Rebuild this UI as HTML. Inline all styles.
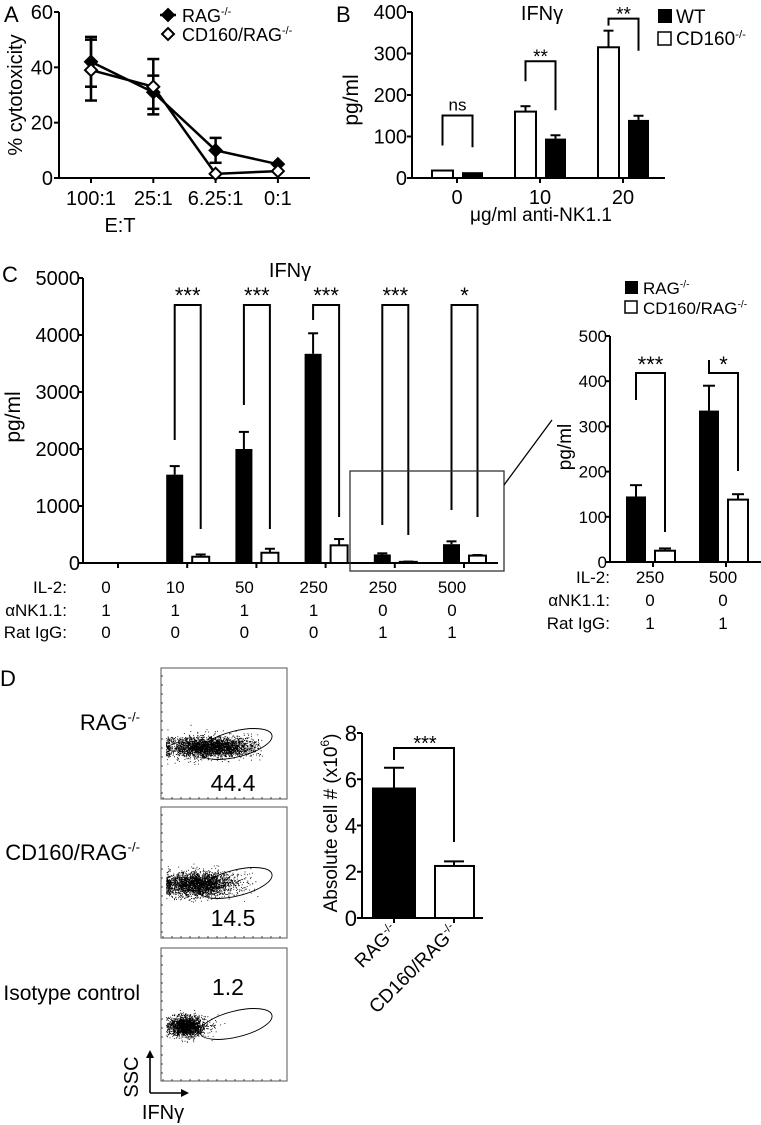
<!DOCTYPE html>
<html><head><meta charset="utf-8"><style>
html,body{margin:0;padding:0;background:#fff;}
svg{display:block;font-family:"Liberation Sans",Arial,sans-serif;}
</style></head><body>
<svg id="fig" width="761" height="1125" viewBox="0 0 761 1125" xmlns="http://www.w3.org/2000/svg">
<g id="gA"></g>
<g id="gB"></g>
<g id="gC"></g>
<g id="gC2"></g>
<g id="gD"></g>
</svg>
<script>
// ---- Panel A data ----
const aCats = ["100:1","25:1","6.25:1","0:1"];
const aRag = [42,31,10,5];
const aRagErr = [9,6,4.5,0.8];
const aCd = [39,33,1.5,2.5];
const aCdErr = [11,10,0.5,0.5];
const aTicks = [0,20,40,60];
// ---- Panel B data ----
const bCats = ["0","10","20"];
const bCd = [18,160,315];
const bCdErr = [0,13,40];
const bWt = [14,95,140];
const bWtErr = [0,8,10];
const bTicks = [0,100,200,300,400];
const bSig = ["ns","**","**"];
// ---- Panel C data ----
const cIL2 = ["0","10","50","250","250","500"];
const cNK = ["1","1","1","1","0","0"];
const cIgG = ["0","0","0","0","1","1"];
const cRag = [0,1550,2000,3670,150,330];
const cRagErr = [0,150,300,360,20,50];
const cCd = [0,110,180,310,20,130];
const cCdErr = [0,40,70,110,5,10];
const cTicks = [0,1000,2000,3000,4000,5000];
const cSig = ["","***","***","***","***","*"];
// ---- Panel C inset ----
const iIL2 = ["250","500"];
const iNK = ["0","0"];
const iIgG = ["1","1"];
const iRag = [145,335];
const iRagErr = [25,55];
const iCd = [25,138];
const iCdErr = [5,12];
const iTicks = [0,100,200,300,400,500];
const iSig = ["***","*"];
// ---- Panel D data ----
const dCats = ["RAG-/-","CD160/RAG-/-"];
const dVals = [5.6,2.25];
const dErr = [0.9,0.2];
const dTicks = [0,2,4,6,8];
const flowLabels = ["RAG","CD160/RAG","Isotype control"];
const flowPct = ["44.4","14.5","1.2"];

const NS="http://www.w3.org/2000/svg";
function mk(parent,tag,attrs,txt){const e=document.createElementNS(NS,tag);for(const k in attrs)e.setAttribute(k,attrs[k]);if(txt!==undefined)e.textContent=txt;parent.appendChild(e);return e;}
function line(p,x1,y1,x2,y2,w){return mk(p,"line",{x1,y1,x2,y2,stroke:"#000","stroke-width":w||2});}
function txt(p,x,y,s,size,anchor,extra){const a={x,y,"font-size":size,"text-anchor":anchor||"middle",fill:"#000"};if(extra)for(const k in extra)a[k]=extra[k];return mk(p,"text",a,s);}
function sup(p,x,y,base,size,anchor){const t=mk(p,"text",{x,y,"font-size":size,"text-anchor":anchor||"start",fill:"#000"});t.appendChild(document.createTextNode(base));mk(t,"tspan",{"font-size":size*0.6,dy:-size*0.38},"-/-");return t;}

// ===== Panel A =====
const A=document.getElementById("gA");
const ax0=59, ay0=178, ayTop=12;
const aY=v=>ay0-(v/60)*(ay0-ayTop);
const aX=i=>91+i*62.3;
let e;
e=txt(A,4,22,"A",22,"start");


e=line(A,ax0,ayTop,ax0,ay0);


e=line(A,ax0,ay0,310,ay0);


aTicks.forEach(v=>{line(A,ax0-5,aY(v),ax0,aY(v));
 e=txt(A,ax0-6,aY(v)+7,String(v),20,"end");
 
 });
aCats.forEach((c,i)=>{line(A,aX(i),ay0,aX(i),ay0+5);
 e=txt(A,aX(i),ay0+27,c,20);
 
 });
e=txt(A,120,232,"E:T",20);


e=txt(A,0,0,"% cytotoxicity",20,"middle",{transform:"translate(22,95) rotate(-90)"});


function diamond(p,x,y,filled){return mk(p,"polygon",{points:`${x},${y-6} ${x+6},${y} ${x},${y+6} ${x-6},${y}`,fill:filled?"#000":"#fff",stroke:"#000","stroke-width":2});}
[[aRag,aRagErr,true],[aCd,aCdErr,false]].forEach(([vals,errs,f])=>{
 const pts=vals.map((v,i)=>aX(i)+","+aY(v)).join(" ");
 e=mk(A,"polyline",{points:pts,fill:"none",stroke:"#000","stroke-width":2.5});
 
 
 vals.forEach((v,i)=>{const x=aX(i);if(errs[i]>1){line(A,x,aY(v+errs[i]),x,aY(v-errs[i]),2.5);line(A,x-6,aY(v+errs[i]),x+6,aY(v+errs[i]),2.5);line(A,x-6,aY(v-errs[i]),x+6,aY(v-errs[i]),2.5);}});
 vals.forEach((v,i)=>{e=diamond(A,aX(i),aY(v),f);
  
  });
});
diamond(A,168,15,true);line(A,160,15,176,15,2.5);
e=sup(A,182,22,"RAG",18);


diamond(A,168,34,false);
e=sup(A,182,41,"CD160/RAG",18);



// ===== Panel B =====
const B=document.getElementById("gB");
const bx0=412, by0=178, byTop=12;
const bY=v=>by0-(v/400)*(by0-byTop);
const bC=i=>457+i*83;
e=txt(B,336,22,"B",22,"start");


e=txt(B,542,20,"IFNγ",20);


line(B,bx0,byTop,bx0,by0);line(B,bx0,by0,665,by0);
bTicks.forEach(v=>{line(B,bx0-5,bY(v),bx0,bY(v));
 e=txt(B,bx0-5,bY(v)+7,String(v),20,"end");
 
 });
e=txt(B,0,0,"pg/ml",21,"middle",{transform:"translate(358,100) rotate(-90)"});


e=txt(B,541,221,"μg/ml anti-NK1.1",19);


bCats.forEach((c,i)=>{const cx=bC(i);line(B,cx,by0,cx,by0+5);
 e=txt(B,cx,by0+26,c,20);
 
 
 const wx=cx-25, kx=cx+5, w=21;
 if(bCdErr[i]>0){line(B,wx+w/2,bY(bCd[i]),wx+w/2,bY(bCd[i]+bCdErr[i]));line(B,wx+w/2-5,bY(bCd[i]+bCdErr[i]),wx+w/2+5,bY(bCd[i]+bCdErr[i]));}
 if(bWtErr[i]>0){line(B,kx+w/2,bY(bWt[i]),kx+w/2,bY(bWt[i]+bWtErr[i]));line(B,kx+w/2-5,bY(bWt[i]+bWtErr[i]),kx+w/2+5,bY(bWt[i]+bWtErr[i]));}
 e=mk(B,"rect",{x:wx,y:bY(bCd[i]),width:w,height:by0-bY(bCd[i]),fill:"#fff",stroke:"#000","stroke-width":2});
 
 
 e=mk(B,"rect",{x:kx,y:bY(bWt[i]),width:w,height:by0-bY(bWt[i]),fill:"#000"});
 
 
 const top=bY(Math.max(bCd[i]+bCdErr[i],bWt[i]+bWtErr[i]))-(i==0?55:i==1?45:12);
 const lx=wx+w/2, rx=kx+w/2;
 e=mk(B,"polyline",{points:`${lx},${bY(bCd[i]+bCdErr[i])-(i==2?5:25)} ${lx},${top} ${rx},${top} ${rx},${bY(bWt[i]+bWtErr[i])-(i==2?65:25)}`,fill:"none",stroke:"#000","stroke-width":2});
 
 
 e=txt(B,(lx+rx)/2,top-(bSig[i]=="ns"?5:-2),bSig[i],bSig[i]=="ns"?17:19);
 
 
});
e=mk(B,"rect",{x:658,y:9,width:14,height:14,fill:"#000"});


e=txt(B,676,23,"WT",19,"start");


mk(B,"rect",{x:658,y:32,width:13,height:13,fill:"#fff",stroke:"#000","stroke-width":1.5});
e=sup(B,676,45,"CD160",19);



// ===== Panel C =====
const C=document.getElementById("gC");
const cx0=83, cy0=563, cyTop=278;
const cY=v=>cy0-(v/5000)*(cy0-cyTop);
const cC=i=>118+i*69.2;
e=txt(C,2,282,"C",22,"start");


e=txt(C,290,277,"IFNγ",20);


line(C,cx0,cyTop,cx0,cy0);line(C,cx0,cy0,498,cy0);
cTicks.forEach(v=>{line(C,cx0-5,cY(v),cx0,cY(v));
 e=txt(C,cx0-3,cY(v)+7,String(v),20,"end");
 
 });
e=txt(C,0,0,"pg/ml",21,"middle",{transform:"translate(20,417) rotate(-90)"});


[["IL-2:",587],["αNK1.1:",610],["Rat IgG:",632]].forEach(([s,y])=>{e=txt(C,67,y+6,s,17,"end");
 
 });
const cLegLeft=[440,405,320,525,510], cLegRight=[529,529,517,535,517];
cIL2.forEach((c,i)=>{const cx=cC(i);line(C,cx,cy0,cx,cy0+5);
 [[cIL2,587],[cNK,610],[cIgG,632]].forEach(([arr,y])=>{e=txt(C,cx-12,y+6,arr[i],17);
  
  });
 if(i==0)return;
 const kx=cx-21, wx=cx+5, w=17;
 const kc=kx+w/2, wc=wx+w/2;
 line(C,kc,cY(cRag[i]),kc,cY(cRag[i]+cRagErr[i]));line(C,kc-5,cY(cRag[i]+cRagErr[i]),kc+5,cY(cRag[i]+cRagErr[i]));
 line(C,wc,cY(cCd[i]),wc,cY(cCd[i]+cCdErr[i]));line(C,wc-5,cY(cCd[i]+cCdErr[i]),wc+5,cY(cCd[i]+cCdErr[i]));
 e=mk(C,"rect",{x:kx,y:cY(cRag[i]),width:w,height:cy0-cY(cRag[i]),fill:"#000"});
 
 
 e=mk(C,"rect",{x:wx,y:cY(cCd[i]),width:w,height:cy0-cY(cCd[i]),fill:"#fff",stroke:"#000","stroke-width":2});
 
 
 e=mk(C,"polyline",{points:`${kc},${cLegLeft[i-1]} ${kc},305 ${wc},305 ${wc},${cLegRight[i-1]}`,fill:"none",stroke:"#000","stroke-width":2});
 
 
 e=txt(C,(kc+wc)/2,303,cSig[i],22);
 
 
});
e=mk(C,"rect",{x:350,y:471,width:154,height:100,fill:"none",stroke:"#333","stroke-width":1.3});


line(C,504,485,552,420,1.3);

// ===== Panel C inset =====
const I=document.getElementById("gC2");
const ix0=610, iy0=562, iyTop=336;
const iY=v=>iy0-(v/500)*(iy0-iyTop);
const iC=i=>653+i*73;
line(I,ix0,iyTop,ix0,iy0);line(I,ix0,iy0,761,iy0);
iTicks.forEach(v=>{line(I,ix0-5,iY(v),ix0,iY(v));
 e=txt(I,ix0-3,iY(v)+6,String(v),17,"end");
 
 });
e=txt(I,0,0,"pg/ml",19,"middle",{transform:"translate(571,447) rotate(-90)"});


[["IL-2:",577],["αNK1.1:",600],["Rat IgG:",623]].forEach(([s,y])=>{e=txt(I,610,y+6,s,17,"end");
 
 });
const iLeft=[400,360],iRight=[532,471];
iIL2.forEach((c,i)=>{const cx=iC(i);line(I,cx,iy0,cx,iy0+5);
 [[iIL2,577],[iNK,600],[iIgG,623]].forEach(([arr,y])=>{e=txt(I,cx-3,y+6,arr[i],17);
  
  });
 const kx=cx-27, wx=cx+2, w=20;
 const kc=kx+w/2, wc=wx+w/2;
 line(I,kc,iY(iRag[i]),kc,iY(iRag[i]+iRagErr[i]));line(I,kc-6,iY(iRag[i]+iRagErr[i]),kc+6,iY(iRag[i]+iRagErr[i]));
 line(I,wc,iY(iCd[i]),wc,iY(iCd[i]+iCdErr[i]));line(I,wc-6,iY(iCd[i]+iCdErr[i]),wc+6,iY(iCd[i]+iCdErr[i]));
 e=mk(I,"rect",{x:kx,y:iY(iRag[i]),width:w,height:iy0-iY(iRag[i]),fill:"#000"});
 
 
 e=mk(I,"rect",{x:wx,y:iY(iCd[i]),width:w,height:iy0-iY(iCd[i]),fill:"#fff",stroke:"#000","stroke-width":2});
 
 
 e=mk(I,"polyline",{points:`${kc},${iLeft[i]} ${kc},373 ${wc},373 ${wc},${iRight[i]}`,fill:"none",stroke:"#000","stroke-width":2});
 
 
 e=txt(I,(kc+wc)/2,372,iSig[i],22);
 
 
});
e=mk(I,"rect",{x:625,y:281,width:13,height:13,fill:"#000"});


e=sup(I,643,294,"RAG",17);


mk(I,"rect",{x:625,y:301,width:12,height:12,fill:"#fff",stroke:"#000","stroke-width":1.5});
e=sup(I,643,314,"CD160/RAG",17);



// ===== Panel D =====
const D=document.getElementById("gD");
e=txt(D,0,686,"D",22,"start");


const plotTops=[668,807,948];
const plotH=[131,131,133];
// cloud texture params per plot: [cx,cy,sx,sy,n,tail]
const clouds=[[208,747,22,5,3200,0.8],[197,884,18,6,2800,0.4],[186,1026,9,5,2000,0.1]];
let seed=7;function rnd(){seed=(seed*16807)%2147483647;return seed/2147483647;}
function gauss(){let u=rnd()||1e-6,v=rnd();return Math.sqrt(-2*Math.log(u))*Math.cos(2*Math.PI*v);}
plotTops.forEach((t,k)=>{
 e=mk(D,"rect",{x:161,y:t,width:126,height:plotH[k],fill:"#fff",stroke:"#555","stroke-width":1});
 
 
 for(let j=0;j<14;j++){line(D,161,t+8+j*9,163,t+8+j*9,0.7);line(D,163+j*9,t+plotH[k],163+j*9,t+plotH[k]-2,0.7);}
 const [ccx,ccy,sx,sy,n,tail]=clouds[k];
 let d="";
 for(let j=0;j<n;j++){let x=ccx+gauss()*sx,y=ccy+gauss()*sy;
  if(rnd()<tail*0.25){x+=Math.abs(gauss())*15;y-=Math.abs(gauss())*2;}
  if(x<166)x=166+rnd()*4; if(x>262)continue;
  d+=`M${x.toFixed(1)} ${y.toFixed(1)}h0.9v0.9h-0.9z`;}
 e=mk(D,"path",{d:d,fill:"#000"});
 
 
 e=mk(D,"ellipse",{cx:236,cy:t+76,rx:37,ry:13,transform:`rotate(-14 236 ${t+76})`,fill:"none",stroke:"#000","stroke-width":0.9});
 
 
});
e=txt(D,233,791,flowPct[0],23);


e=txt(D,233,926,flowPct[1],23);


e=txt(D,228,995,flowPct[2],23);


e=sup(D,140,730,"RAG",22,"end");


e=sup(D,140,860,"CD160/RAG",22,"end");


e=txt(D,140,1000,"Isotype control",21,"end");


line(D,150,1093,150,1055,1.6);mk(D,"polygon",{points:"146,1058 150,1050 154,1058",fill:"#000"});
line(D,150,1093,183,1093,1.6);mk(D,"polygon",{points:"181,1089 189,1093 181,1097",fill:"#000"});
e=txt(D,0,0,"SSC",20,"middle",{transform:"translate(138,1077) rotate(-90)"});


e=txt(D,163,1119,"IFNγ",20);


// bar chart D
const dx0=362, dy0=918, dyTop=733;
const dY=v=>dy0-(v/8)*(dy0-dyTop);
const dC=i=>394+i*60;
line(D,dx0,dyTop,dx0,dy0);line(D,dx0,dy0,483,dy0);
dTicks.forEach(v=>{line(D,dx0-5,dY(v),dx0,dY(v));
 e=txt(D,dx0-5,dY(v)+8,String(v),22,"end");
 
 });
const dt=mk(D,"text",{transform:"translate(337,823) rotate(-90)","font-size":19,"text-anchor":"middle",fill:"#000"});
dt.appendChild(document.createTextNode("Absolute cell # (x10"));mk(dt,"tspan",{"font-size":12,dy:-8},"6");mk(dt,"tspan",{dy:8},")");


dVals.forEach((v,i)=>{const cx=dC(i);const w=i==0?42:39;
 line(D,cx,dy0,cx,dy0+5);
 line(D,cx,dY(v),cx,dY(v+dErr[i]));line(D,cx-10,dY(v+dErr[i]),cx+10,dY(v+dErr[i]));
 e=mk(D,"rect",{x:i==0?373:435,y:dY(v),width:w,height:dy0-dY(v),fill:i==0?"#000":"#fff",stroke:"#000","stroke-width":2});
 
 
 e=sup(D,0,0,i==0?"RAG":"CD160/RAG",19,"end");
 e.setAttribute('transform',`translate(${cx+5},${dy0+14}) rotate(-45)`);
 
 
});
e=mk(D,"polyline",{points:`394,760 394,748 454,748 454,842`,fill:"none",stroke:"#000","stroke-width":2});


e=txt(D,425,750,"***",20);


</script>
</body></html>
